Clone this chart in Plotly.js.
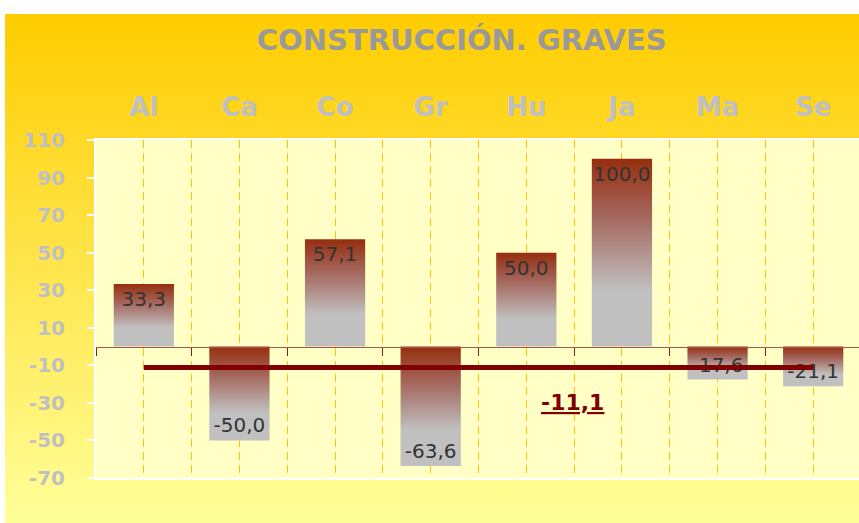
<!DOCTYPE html>
<html>
<head>
<meta charset="utf-8">
<script src="https://cdn.plot.ly/plotly-3.0.1.min.js"></script>
<style>
html, body { margin: 0; padding: 0; background: #fff; overflow: hidden; }
#myDiv {
  position: absolute; left: 5px; top: 14px; width: 857px; height: 509px;
  background: linear-gradient(to bottom, #FFCC00, #FFFF99);
}
</style>
</head>
<body>
<div id="myDiv"></div>
<script>
var categories = ['Al', 'Ca', 'Co', 'Gr', 'Hu', 'Ja', 'Ma', 'Se'];
var values = [33.3, -50.0, 57.1, -63.6, 50.0, 100.0, -17.6, -21.1];
var average = -11.1;
var yTicks = [-70, -50, -30, -10, 10, 30, 50, 70, 90, 110];

// comma decimals, plain hyphen for the minus sign
function fmt(v) { return v.toFixed(1).replace('.', ','); }

var bars = {
  x: categories,
  y: values,
  type: 'bar',
  text: values.map(fmt),
  textposition: 'inside',
  insidetextanchor: 'end',
  textangle: 0,
  constraintext: 'none',
  textfont: {family: 'DejaVu Sans', size: 20, color: '#333333'},
  marker: {color: '#B07060'},
  hoverinfo: 'none'
};

var avgLine = {
  x: categories,
  y: categories.map(function () { return average; }),
  xaxis: 'x2',
  type: 'scatter',
  mode: 'lines',
  line: {color: '#800000', width: 5},
  hoverinfo: 'none'
};

var grid = {showgrid: true, gridcolor: '#FFC400', gridwidth: 1, griddash: '8px,5px'};

var layout = {
  showlegend: false,
  paper_bgcolor: 'rgba(0,0,0,0)',
  plot_bgcolor: '#FFFFC6',
  margin: {l: 91, r: 1, t: 126, b: 45},
  bargap: 0.37,
  title: {
    text: 'CONSTRUCCIÓN. GRAVES',
    font: {family: 'DejaVu Sans', size: 29, weight: 'bold', color: '#999999'},
    xref: 'container', x: 0.533, xanchor: 'center',
    yref: 'container', y: 0.949, yanchor: 'middle'
  },
  xaxis: Object.assign({
    type: 'category',
    side: 'top',
    range: [-0.5, 7.5],
    ticks: '',
    ticklabelstandoff: 12,
    tickfont: {family: 'DejaVu Sans', size: 26, weight: 'bold', color: '#C0C0C0'},
    showline: true, linecolor: '#FFFFFF', linewidth: 2, mirror: true,
    zeroline: false
  }, grid),
  xaxis2: Object.assign({
    type: 'category',
    overlaying: 'x',
    anchor: 'free',
    position: 70 / 180,
    side: 'bottom',
    range: [-0.5, 7.5],
    tickson: 'boundaries',
    ticks: 'outside', ticklen: 8, tickwidth: 1, tickcolor: '#8B1A10',
    showticklabels: false,
    showline: true, linecolor: '#A8564C', linewidth: 1.5,
    zeroline: false
  }, grid),
  yaxis: {
    range: [-70, 110],
    tickmode: 'array',
    tickvals: yTicks,
    ticktext: yTicks.map(String),
    tickfont: {family: 'DejaVu Sans', size: 20, weight: 'bold', color: '#C0C0C0'},
    ticks: 'outside', ticklen: 7, tickwidth: 2, tickcolor: '#FFFFFF',
    ticklabelstandoff: 18,
    showline: true, linecolor: '#FFFFFF', linewidth: 2, mirror: true,
    showgrid: false, zeroline: false
  },
  annotations: [{
    text: '<b><u>' + fmt(average) + '</u></b>',
    xref: 'x', yref: 'y', x: 4.48, y: -30,
    showarrow: false,
    font: {family: 'DejaVu Sans', size: 22, color: '#800000'}
  }]
};

Plotly.newPlot('myDiv', [bars, avgLine], layout, {displayModeBar: false, staticPlot: true}).then(function (gd) {
  // vertical gradient on the bars: dark rust at the top, silver at the bottom
  var ns = 'http://www.w3.org/2000/svg';
  var svg = gd.querySelector('.main-svg');
  var defs = svg.querySelector('defs') || svg.insertBefore(document.createElementNS(ns, 'defs'), svg.firstChild);
  var grad = document.createElementNS(ns, 'linearGradient');
  grad.setAttribute('id', 'barGrad');
  grad.setAttribute('x1', '0'); grad.setAttribute('y1', '0');
  grad.setAttribute('x2', '0'); grad.setAttribute('y2', '1');
  [[0, '#962E0E'], [0.3, '#A4665C'], [0.7, '#C0C0C0'], [1, '#C0C0C0']].forEach(function (s) {
    var st = document.createElementNS(ns, 'stop');
    st.setAttribute('offset', s[0]);
    st.setAttribute('stop-color', s[1]);
    grad.appendChild(st);
  });
  defs.appendChild(grad);
  gd.querySelectorAll('.bars .point path').forEach(function (p) {
    p.style.fill = 'url(#barGrad)';
  });
});
</script>
</body>
</html>
